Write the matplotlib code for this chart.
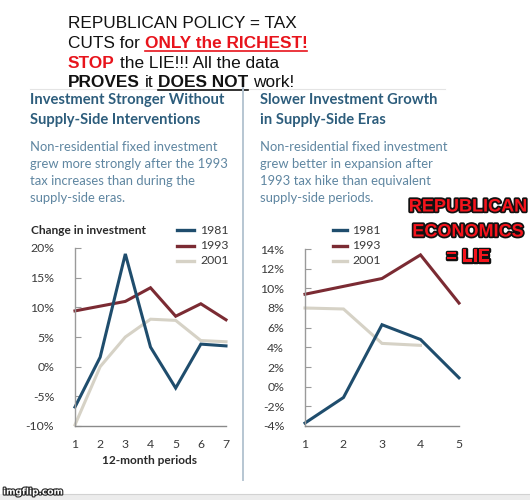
import matplotlib
matplotlib.use("Agg")
import matplotlib.pyplot as plt
from matplotlib import patheffects as pe
from matplotlib.lines import Line2D
from matplotlib.patches import Rectangle

# ---------------- data ----------------
series_names = ["1981", "1993", "2001"]
left_periods = [1, 2, 3, 4, 5, 6, 7]
left_1981 = [-6.8, 1.6, 19.0, 3.3, -3.6, 3.8, 3.5]
left_1993 = [9.4, 10.2, 11.0, 13.3, 8.5, 10.6, 7.9]
left_2001 = [-9.8, 0.0, 5.0, 8.0, 7.8, 4.4, 4.2]
left_yticks = [-10, -5, 0, 5, 10, 15, 20]

right_periods = [1, 2, 3, 4, 5]
right_1981 = [-3.7, -1.1, 6.3, 4.8, 0.9]
right_1993 = [9.4, 10.2, 11.0, 13.4, 8.5]
right_2001 = [8.0, 7.9, 4.4, 4.2]
right_yticks = [-4, -2, 0, 2, 4, 6, 8, 10, 12, 14]

colors = {"1981": "#1f4d6d", "1993": "#7b2b33", "2001": "#d6d2c6"}

W, H = 530, 500
fig = plt.figure(figsize=(5.3, 5.0), dpi=100)
fig.patch.set_facecolor("white")


def fx(x):
    return x / W


def fy(y):
    return 1 - y / H


renderer = fig.canvas.get_renderer()

# ---------------- header with mixed styles ----------------
HFS = 12.4
HFAM = "Liberation Sans"
space_px = 0.278 * HFS * 100 / 72


def draw_pieces(pieces, x, yb):
    for txt, col, wt, ul in pieces:
        if txt == " ":
            x += space_px
            continue
        t = fig.text(fx(x), fy(yb), txt, color=col, fontweight=wt,
                     fontsize=HFS, family=HFAM, va="baseline", ha="left")
        bb = t.get_window_extent(renderer)
        if ul:
            fig.add_artist(Line2D([bb.x0 / W, bb.x1 / W],
                                  [fy(yb + 2.5), fy(yb + 2.5)],
                                  color=col, lw=1.2,
                                  transform=fig.transFigure))
        x = bb.x1


red = "#e8141c"
blk = "#111111"
draw_pieces([("REPUBLICAN POLICY = TAX", blk, "normal", False)], 68, 28)
draw_pieces([("CUTS for", blk, "normal", False), (" ", None, None, None),
             ("ONLY the RICHEST!", red, "bold", True)], 68, 48)
draw_pieces([("STOP", red, "bold", False), (" ", None, None, None),
             ("the LIE!!! All the data", blk, "normal", False)], 68, 67.5)
draw_pieces([("PROVES", blk, "bold", False), (" ", None, None, None),
             ("it", blk, "normal", False), (" ", None, None, None),
             ("DOES NOT", blk, "bold", True), (" ", None, None, None),
             ("work!", blk, "normal", False)], 68, 87)

# faint frame lines
fig.add_artist(Line2D([fx(30), fx(445)], [fy(88.5), fy(88.5)], color="#e4e4e4",
                      lw=0.8, transform=fig.transFigure, zorder=0))
fig.add_artist(Line2D([fx(243), fx(243)], [fy(88), fy(480)], color="#b7c6d2",
                      lw=1.4, transform=fig.transFigure))

# ---------------- panel titles ----------------
title_col = "#2d5d7c"
sub_col = "#5f86a1"
CFAM = ["Lato", "DejaVu Sans"]

fig.text(fx(30), fy(104), "Investment Stronger Without", color=title_col,
         fontsize=10.6, fontweight="bold", family=CFAM, va="baseline")
fig.text(fx(30), fy(124), "Supply-Side Interventions", color=title_col,
         fontsize=10.6, fontweight="bold", family=CFAM, va="baseline")
for i, s in enumerate(["Non-residential fixed investment",
                       "grew more strongly after the 1993",
                       "tax increases than during the",
                       "supply-side eras."]):
    fig.text(fx(30), fy(151 + i * 17), s, color=sub_col, fontsize=9.4,
             family=CFAM, va="baseline")

fig.text(fx(260), fy(104), "Slower Investment Growth", color=title_col,
         fontsize=10.6, fontweight="bold", family=CFAM, va="baseline")
fig.text(fx(260), fy(124), "in Supply-Side Eras", color=title_col,
         fontsize=10.6, fontweight="bold", family=CFAM, va="baseline")
for i, s in enumerate(["Non-residential fixed investment",
                       "grew better in expansion after",
                       "1993 tax hike than equivalent",
                       "supply-side periods."]):
    fig.text(fx(260), fy(151 + i * 17), s, color=sub_col, fontsize=9.4,
             family=CFAM, va="baseline")

fig.text(fx(31), fy(230), "Change in investment", color="#2a2a2a",
         fontsize=8.6, fontweight="bold", family=CFAM, va="center")


# ---------------- charts ----------------
def style_axes(ax, xs, yticks):
    for s in ["top", "right"]:
        ax.spines[s].set_visible(False)
    ax.spines["left"].set_color("#9a9a9a")
    ax.spines["bottom"].set_color("#8a8a8a")
    ax.spines["left"].set_linewidth(1.0)
    ax.spines["bottom"].set_linewidth(1.0)
    ax.set_xlim(xs[0], xs[-1])
    ax.set_ylim(yticks[0], yticks[-1])
    ax.set_yticks(yticks)
    ax.set_yticklabels([f"{v}%" for v in yticks])
    ax.set_xticks(xs)
    ax.set_xticklabels([str(v) for v in xs])
    ax.tick_params(axis="y", direction="in", length=4, color="#9a9a9a",
                   pad=15, labelsize=8.8, labelcolor="#3a3a3a")
    ax.tick_params(axis="x", length=0, pad=9, labelsize=8.8,
                   labelcolor="#3a3a3a")
    for lab in ax.get_xticklabels() + ax.get_yticklabels():
        lab.set_family(CFAM)
    ax.patch.set_alpha(0)


axL = fig.add_axes([fx(75), fy(426), 151 / W, 178 / H])
style_axes(axL, left_periods, left_yticks)
axL.plot(left_periods, left_2001, color=colors["2001"], lw=2.2, clip_on=False,
         solid_joinstyle="miter")
axL.plot(left_periods, left_1993, color=colors["1993"], lw=2.2, clip_on=False,
         solid_joinstyle="miter")
axL.plot(left_periods, left_1981, color=colors["1981"], lw=2.2, clip_on=False,
         solid_joinstyle="miter")

axR = fig.add_axes([fx(305), fy(426), 154 / W, 177 / H])
style_axes(axR, right_periods, right_yticks)
axR.plot(right_periods[:len(right_2001)], right_2001, color=colors["2001"],
         lw=2.2, clip_on=False, solid_joinstyle="miter")
axR.plot(right_periods, right_1993, color=colors["1993"], lw=2.2,
         clip_on=False, solid_joinstyle="miter")
axR.plot(right_periods, right_1981, color=colors["1981"], lw=2.2,
         clip_on=False, solid_joinstyle="miter")

fig.text(fx(150), fy(460), "12-month periods", color="#2a2a2a", fontsize=8.6,
         fontweight="bold", family=CFAM, ha="center", va="center")


# ---------------- legends ----------------
def legend(x0, x1, xt, ys):
    for name, y in zip(series_names, ys):
        fig.add_artist(Line2D([fx(x0), fx(x1)], [fy(y), fy(y)],
                              color=colors[name], lw=2.4,
                              transform=fig.transFigure))
        fig.text(fx(xt), fy(y), name, color="#3a3a3a", fontsize=8.8,
                 family=CFAM, va="center", ha="left")


legend(177, 194, 200, [230, 245.5, 261])
legend(333, 347, 352, [230, 245.5, 261])

# ---------------- meme caption ----------------
for i, s in enumerate(["REPUBLICAN", "ECONOMICS", "= LIE"]):
    fig.text(fx(468), fy(207 + i * 25), s, color="#f5141c", fontsize=13,
             fontweight="bold", family="Liberation Sans",
             ha="center", va="center",
             path_effects=[pe.withStroke(linewidth=2.5, foreground="#111111")])

# ---------------- footer ----------------
fig.add_artist(Rectangle((0, 0), 1, fy(494), transform=fig.transFigure,
                         facecolor="#ececec", edgecolor="none", zorder=0))
fig.add_artist(Line2D([fx(55), 1], [fy(494), fy(494)], color="#d2d2d2",
                      lw=0.8, transform=fig.transFigure))
fig.text(fx(3), fy(492), "imgflip.com", color="white", fontsize=6.5,
         fontweight="bold", family="DejaVu Sans", va="center", ha="left",
         path_effects=[pe.withStroke(linewidth=1.6, foreground="#222222")])

fig.savefig("out.png", dpi=100, facecolor="white")
